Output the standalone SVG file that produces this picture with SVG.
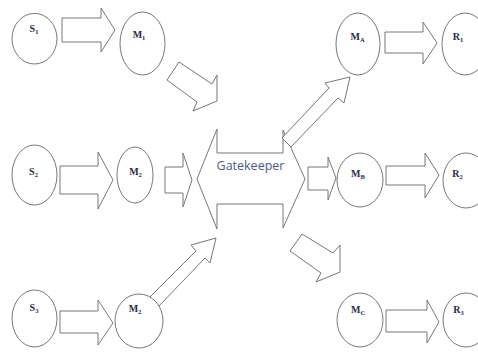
<svg xmlns="http://www.w3.org/2000/svg" width="478" height="354" viewBox="0 0 478 354">
<style>
.sh{fill:#fff;stroke:#777;stroke-width:1}
.lb{font-family:"Liberation Serif",serif;font-weight:bold;font-size:10px;fill:#2b2b48;text-anchor:middle}
.sb{font-size:6.5px}
.gk{font-family:"Open Sans","Liberation Sans",sans-serif;font-size:12.5px;fill:#4d5a88;text-anchor:middle}
</style>
<rect width="478" height="354" fill="#fff"/>
<g id="connectors">
<polygon class="sh" points="62,18 101,18 101,8 115,30 101,52 101,42 62,42"/>
<polygon class="sh" points="60,166 98,166 98,152 113,180 98,209 98,194 60,194"/>
<polygon class="sh" points="165,167 183,167 183,153 192,180 183,207 183,193 165,193"/>
<polygon class="sh" points="308,167 328,167 328,157 336,178 328,200 328,190 308,190"/>
<polygon class="sh" points="386,166 425,166 425,153 439,175 425,198 425,185 386,185"/>
<polygon class="sh" points="385,32 423,32 423,22 437,43 423,64 423,53 385,53"/>
<polygon class="sh" points="386,310 427,310 427,300 439,322 427,343 427,332 386,332"/>
<polygon class="sh" points="60,311 98,311 98,300 113,323 98,345 98,333 60,333"/>
<polygon class="sh" points="167,80 179,62 212,84 217,75 217,101 193,111 197,102"/>
<polygon class="sh" points="290,251 302,234 333,253 340,245 340,272 316,282 321,273"/>
<polygon class="sh" points="149,298 196,251 191,245 216,238 210,263 205,258 158,307"/>
</g>
<g id="gatekeeper">
<polygon class="sh" points="197,179 217,129 217,153 283,153 283,130 305,179 283,228 283,204 217,204 217,229"/>
<text class="gk" x="250.5" y="170">Gatekeeper</text>
</g>
<g id="gk-ma">
<polygon class="sh" points="282,138 329,88 325,83 350,77 344,103 338,98 291,147"/>
</g>
<g id="S1"><ellipse class="sh" cx="34.5" cy="38.7" rx="22.5" ry="25.3"/><text class="lb" x="34" y="32">S<tspan class="sb" dy="1.5">1</tspan></text></g>
<g id="M1"><ellipse class="sh" cx="142.5" cy="43.5" rx="22.5" ry="31.5"/><text class="lb" x="139" y="38">M<tspan class="sb" dy="1.5">1</tspan></text></g>
<g id="S2"><ellipse class="sh" cx="34.5" cy="175" rx="22.5" ry="30"/><text class="lb" x="33.5" y="175">S<tspan class="sb" dy="1.5">2</tspan></text></g>
<g id="M2a"><ellipse class="sh" cx="135" cy="175" rx="18" ry="28"/><text class="lb" x="135.5" y="175">M<tspan class="sb" dy="1.5">2</tspan></text></g>
<g id="S3"><ellipse class="sh" cx="34.5" cy="318.5" rx="22.5" ry="28.5"/><text class="lb" x="34" y="311">S<tspan class="sb" dy="1.5">3</tspan></text></g>
<g id="M2b"><ellipse class="sh" cx="139" cy="321" rx="24" ry="27"/><text class="lb" x="135" y="312">M<tspan class="sb" dy="1.5">2</tspan></text></g>
<g id="MA"><ellipse class="sh" cx="358" cy="44" rx="22" ry="31"/><text class="lb" x="357.5" y="40">M<tspan class="sb" dy="1.5">A</tspan></text></g>
<g id="MB"><ellipse class="sh" cx="360" cy="180" rx="23" ry="27"/><text class="lb" x="358" y="177">M<tspan class="sb" dy="1.5">B</tspan></text></g>
<g id="MC"><ellipse class="sh" cx="360" cy="320" rx="23" ry="27"/><text class="lb" x="358" y="313">M<tspan class="sb" dy="1.5">C</tspan></text></g>
<g id="R1"><ellipse class="sh" cx="465" cy="44" rx="23" ry="31"/><text class="lb" x="458" y="40">R<tspan class="sb" dy="1.5">1</tspan></text></g>
<g id="R2"><ellipse class="sh" cx="466" cy="180.5" rx="23" ry="27.5"/><text class="lb" x="457.5" y="177">R<tspan class="sb" dy="1.5">2</tspan></text></g>
<g id="R3"><ellipse class="sh" cx="466" cy="320" rx="23" ry="27"/><text class="lb" x="458.5" y="313">R<tspan class="sb" dy="1.5">3</tspan></text></g>
</svg>
